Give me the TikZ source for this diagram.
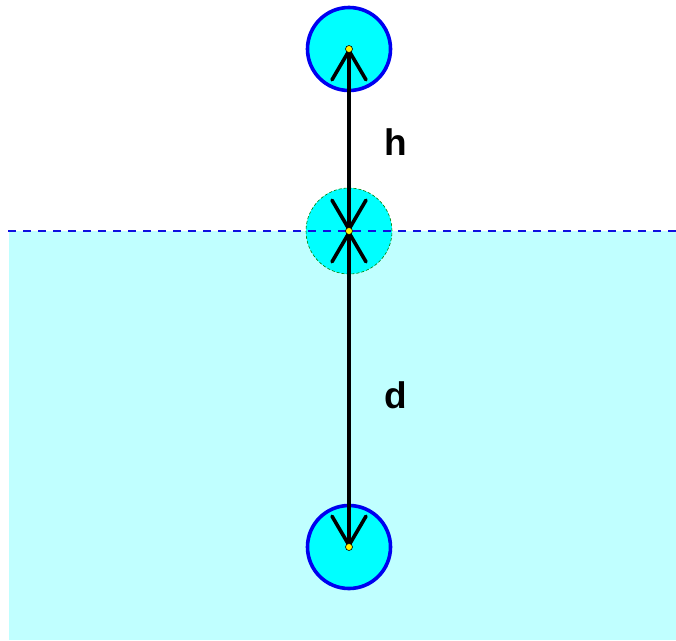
\documentclass[tikz,border=0pt]{standalone}
\usepackage{fontspec}
\setmainfont{Liberation Sans}
\usetikzlibrary{arrows.meta}
\definecolor{water}{HTML}{C0FFFF}
\definecolor{ball}{HTML}{00FFFF}
\definecolor{surf}{HTML}{1010E0}
\definecolor{ring}{HTML}{0000F0}
\definecolor{ghost}{HTML}{008000}
\tikzset{
  ballnode/.style={circle, fill=ball, draw=ring, line width=3.6pt, minimum size=83pt, inner sep=0pt},
  ghostnode/.style={circle, fill=ball, draw=ghost, line width=0.6pt, dash pattern=on 3pt off 2pt, minimum size=86pt, inner sep=0pt},
  dotnode/.style={circle, fill=yellow, draw=black, line width=0.6pt, minimum size=7pt, inner sep=0pt},
  dim/.style={line width=3.6pt, line cap=round, {Straight Barb[length=29pt, width=34pt, line width=3.6pt, round]}-{Straight Barb[length=29pt, width=34pt, line width=3.6pt, round]}},
  lab/.style={font=\fontsize{37}{44}\selectfont\bfseries}
}
\begin{document}
\begin{tikzpicture}[x=1pt, y=-1pt]
\useasboundingbox (0,0) rectangle (676,640);
\fill[water] (9,231) rectangle (676,640);
\node[ballnode] (top) at (349,49) {};
\node[ghostnode] (mid) at (349,231) {};
\node[ballnode] (bot) at (349,547) {};
\draw[surf, line width=1.3pt, dash pattern=on 8pt off 7pt] (8,231) -- (676,231);
\draw[dim] (mid.center) -- (top.center);
\draw[dim] (mid.center) -- (bot.center);
\node[dotnode] (dtop) at (top.center) {};
\node[dotnode] (dmid) at (mid.center) {};
\node[dotnode] (dbot) at (bot.center) {};
\node[lab] (h) at (396,142) {h};
\node[lab] (d) at (396,395) {d};
\end{tikzpicture}
\end{document}
